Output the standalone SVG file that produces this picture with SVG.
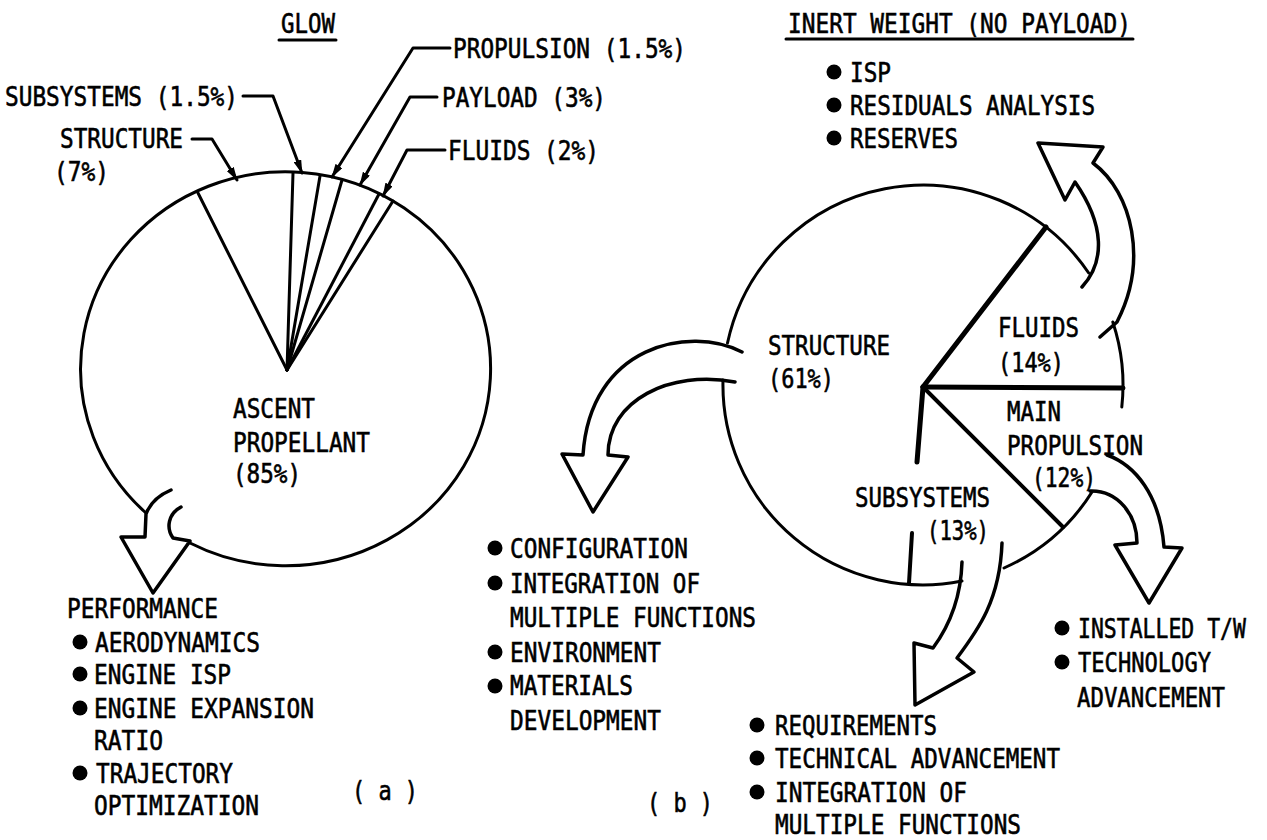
<svg xmlns="http://www.w3.org/2000/svg" width="1267" height="840" viewBox="0 0 1267 840">
<defs>
<style>
.t{font-family:"DejaVu Sans Mono","Liberation Mono",monospace;font-size:27px;fill:#000;stroke:#000;stroke-width:0.6}
.ln{fill:none;stroke:#000;stroke-width:3;stroke-linecap:round;stroke-linejoin:round}
.thick{stroke-width:5}
.mid{stroke-width:4}
.arw{fill:none;stroke:#000;stroke-width:3.5;stroke-linecap:round;stroke-linejoin:round}
.dot{fill:#000}
</style>
<marker id="ah" viewBox="0 0 14 8" refX="13" refY="4" markerWidth="14" markerHeight="8" markerUnits="userSpaceOnUse" orient="auto">
<path d="M0,0 L14,4 L0,8 z" fill="#000"/>
</marker>
</defs>
<rect width="1267" height="840" fill="#fff"/>

<g id="title-glow">
<text class="t" x="281" y="33" textLength="54" lengthAdjust="spacingAndGlyphs">GLOW</text>
<line class="ln" x1="279" y1="40" x2="336" y2="40" stroke-width="2.5"/>
</g>
<g id="title-inert">
<text class="t" x="788" y="33" textLength="343" lengthAdjust="spacingAndGlyphs">INERT WEIGHT (NO PAYLOAD)</text>
<line class="ln" x1="786" y1="39" x2="1133" y2="39" stroke-width="2.5"/>
</g>

<g id="pie-glow">
<path class="ln" d="M 190,543 A 205 197 0 1 0 146,513"/>
<line class="ln" x1="287" y1="370" x2="198" y2="193"/>
<line class="ln" x1="287" y1="370" x2="293" y2="173"/>
<line class="ln" x1="287" y1="370" x2="320" y2="176"/>
<line class="ln" x1="287" y1="370" x2="342" y2="180"/>
<line class="ln" x1="287" y1="370" x2="379" y2="194"/>
<line class="ln" x1="287" y1="370" x2="393" y2="201"/>
<text class="t" x="233" y="418" textLength="82" lengthAdjust="spacingAndGlyphs">ASCENT</text>
<text class="t" x="233" y="452" textLength="137" lengthAdjust="spacingAndGlyphs">PROPELLANT</text>
<text class="t" x="233" y="483" textLength="68" lengthAdjust="spacingAndGlyphs">(85%)</text>
</g>

<g id="label-glow-subsystems"><text class="t" x="5" y="106" textLength="233" lengthAdjust="spacingAndGlyphs">SUBSYSTEMS (1.5%)</text></g>
<g id="label-glow-structure">
<text class="t" x="60" y="148" textLength="123" lengthAdjust="spacingAndGlyphs">STRUCTURE</text>
<text class="t" x="54" y="181" textLength="55" lengthAdjust="spacingAndGlyphs">(7%)</text>
</g>
<g id="label-glow-propulsion"><text class="t" x="453" y="58" textLength="233" lengthAdjust="spacingAndGlyphs">PROPULSION (1.5%)</text></g>
<g id="label-glow-payload"><text class="t" x="442" y="107" textLength="164" lengthAdjust="spacingAndGlyphs">PAYLOAD (3%)</text></g>
<g id="label-glow-fluids"><text class="t" x="448" y="160" textLength="151" lengthAdjust="spacingAndGlyphs">FLUIDS (2%)</text></g>

<g id="list-performance">
<text class="t" x="67" y="618" textLength="151" lengthAdjust="spacingAndGlyphs">PERFORMANCE</text>
<circle class="dot" cx="80" cy="642" r="7.5"/>
<text class="t" x="95" y="652" textLength="165" lengthAdjust="spacingAndGlyphs">AERODYNAMICS</text>
<circle class="dot" cx="80" cy="674" r="7.5"/>
<text class="t" x="94" y="684" textLength="137" lengthAdjust="spacingAndGlyphs">ENGINE ISP</text>
<circle class="dot" cx="80" cy="708" r="7.5"/>
<text class="t" x="94" y="718" textLength="220" lengthAdjust="spacingAndGlyphs">ENGINE EXPANSION</text>
<text class="t" x="94" y="750" textLength="69" lengthAdjust="spacingAndGlyphs">RATIO</text>
<circle class="dot" cx="80" cy="773" r="7.5"/>
<text class="t" x="96" y="783" textLength="137" lengthAdjust="spacingAndGlyphs">TRAJECTORY</text>
<text class="t" x="94" y="815" textLength="165" lengthAdjust="spacingAndGlyphs">OPTIMIZATION</text>
</g>
<g id="caption-a"><text class="t" x="352" y="800" textLength="66" lengthAdjust="spacingAndGlyphs">( a )</text></g>

<g id="pie-inert">
<path class="ln" d="M 727.5,343 A 200 200 0 0 1 1088.7,273"/>
<path class="ln" d="M 1112.8,322 A 200 200 0 0 1 1121.8,407"/>
<path class="ln" d="M 1092,492 A 200 200 0 0 1 1004,568"/>
<path class="ln" d="M 962,581 A 200 200 0 0 1 723,380"/>
<line class="ln thick" x1="923" y1="387" x2="1046" y2="227"/>
<line class="ln thick" x1="923" y1="387" x2="1123" y2="388"/>
<line class="ln mid" x1="923" y1="387" x2="1063" y2="527"/>
<line class="ln thick" x1="923" y1="387" x2="917" y2="462"/>
<line class="ln mid" x1="912" y1="533" x2="909" y2="583"/>
<text class="t" x="768" y="355" textLength="122" lengthAdjust="spacingAndGlyphs">STRUCTURE</text>
<text class="t" x="768" y="388" textLength="66" lengthAdjust="spacingAndGlyphs">(61%)</text>
<text class="t" x="998" y="337" textLength="81" lengthAdjust="spacingAndGlyphs">FLUIDS</text>
<text class="t" x="998" y="372" textLength="66" lengthAdjust="spacingAndGlyphs">(14%)</text>
<text class="t" x="1007" y="421" textLength="54" lengthAdjust="spacingAndGlyphs">MAIN</text>
<text class="t" x="1007" y="455" textLength="136" lengthAdjust="spacingAndGlyphs">PROPULSION</text>
<text class="t" x="1032" y="487" textLength="64" lengthAdjust="spacingAndGlyphs">(12%)</text>
<text class="t" x="855" y="507" textLength="135" lengthAdjust="spacingAndGlyphs">SUBSYSTEMS</text>
<text class="t" x="927" y="540" textLength="62" lengthAdjust="spacingAndGlyphs">(13%)</text>
</g>

<g id="list-fluids">
<circle class="dot" cx="834" cy="72" r="7.5"/>
<text class="t" x="850" y="82" textLength="41" lengthAdjust="spacingAndGlyphs">ISP</text>
<circle class="dot" cx="834" cy="105" r="7.5"/>
<text class="t" x="850" y="115" textLength="245" lengthAdjust="spacingAndGlyphs">RESIDUALS ANALYSIS</text>
<circle class="dot" cx="834" cy="138" r="7.5"/>
<text class="t" x="850" y="148" textLength="108" lengthAdjust="spacingAndGlyphs">RESERVES</text>
</g>

<g id="list-structure">
<circle class="dot" cx="495" cy="548" r="7.5"/>
<text class="t" x="510" y="558" textLength="178" lengthAdjust="spacingAndGlyphs">CONFIGURATION</text>
<circle class="dot" cx="495" cy="583" r="7.5"/>
<text class="t" x="510" y="593" textLength="190" lengthAdjust="spacingAndGlyphs">INTEGRATION OF</text>
<text class="t" x="510" y="627" textLength="246" lengthAdjust="spacingAndGlyphs">MULTIPLE FUNCTIONS</text>
<circle class="dot" cx="495" cy="652" r="7.5"/>
<text class="t" x="510" y="662" textLength="151" lengthAdjust="spacingAndGlyphs">ENVIRONMENT</text>
<circle class="dot" cx="495" cy="686" r="7.5"/>
<text class="t" x="510" y="695" textLength="123" lengthAdjust="spacingAndGlyphs">MATERIALS</text>
<text class="t" x="510" y="730" textLength="151" lengthAdjust="spacingAndGlyphs">DEVELOPMENT</text>
</g>
<g id="caption-b"><text class="t" x="647" y="812" textLength="66" lengthAdjust="spacingAndGlyphs">( b )</text></g>

<g id="list-subsystems">
<circle class="dot" cx="757" cy="725" r="7.5"/>
<text class="t" x="775" y="735" textLength="162" lengthAdjust="spacingAndGlyphs">REQUIREMENTS</text>
<circle class="dot" cx="757" cy="758" r="7.5"/>
<text class="t" x="775" y="768" textLength="285" lengthAdjust="spacingAndGlyphs">TECHNICAL ADVANCEMENT</text>
<circle class="dot" cx="757" cy="792" r="7.5"/>
<text class="t" x="775" y="802" textLength="192" lengthAdjust="spacingAndGlyphs">INTEGRATION OF</text>
<text class="t" x="775" y="834" textLength="246" lengthAdjust="spacingAndGlyphs">MULTIPLE FUNCTIONS</text>
</g>

<g id="list-propulsion">
<circle class="dot" cx="1062" cy="628" r="7.5"/>
<text class="t" transform="translate(1078,638) scale(0.795,1)" x="0" y="0">INSTALLED T/W</text>
<circle class="dot" cx="1062" cy="662" r="7.5"/>
<text class="t" x="1078" y="672" textLength="133" lengthAdjust="spacingAndGlyphs">TECHNOLOGY</text>
<text class="t" x="1077" y="707" textLength="148" lengthAdjust="spacingAndGlyphs">ADVANCEMENT</text>
</g>

<g id="connectors">
<path class="ln" marker-end="url(#ah)" d="M 192,139 L 212,139 L 237,180"/>
<path class="ln" marker-end="url(#ah)" d="M 243,96 L 273,96 L 302,173"/>
<path class="ln" marker-end="url(#ah)" d="M 450,48 L 413,48 L 332,177"/>
<path class="ln" marker-end="url(#ah)" d="M 437,97 L 410,97 L 360,185"/>
<path class="ln" marker-end="url(#ah)" d="M 445,150 L 407,150 L 383,196"/>
<path class="arw" d="M 171,490 Q 152,498 146,514 L 145,537 L 121,537 L 153,593 L 190,541 L 173,538 C 166,528 168,514 181,507"/>
<path class="arw" d="M 742,352 C 690,325 590,345 583,455 L 562,454 L 593,512 L 628,457 L 608,455 C 608,400 670,370 735,382"/>
<path class="arw" d="M 1082,287 C 1105,262 1105,225 1075,182 L 1065,200 L 1038,143 L 1103,147 L 1093,163 C 1133,193 1148,262 1117,322 L 1100,337"/>
<path class="arw" d="M 1107,455 C 1135,465 1160,495 1164,547 L 1182,548 L 1149,603 L 1115,545 L 1137,543 C 1137,515 1118,490 1090,491"/>
<path class="arw" d="M 962,562 C 961,595 950,625 933,648 L 914,643 L 915,705 L 974,672 L 957,658 C 978,630 1000,600 1002,543"/>
</g>
</svg>
